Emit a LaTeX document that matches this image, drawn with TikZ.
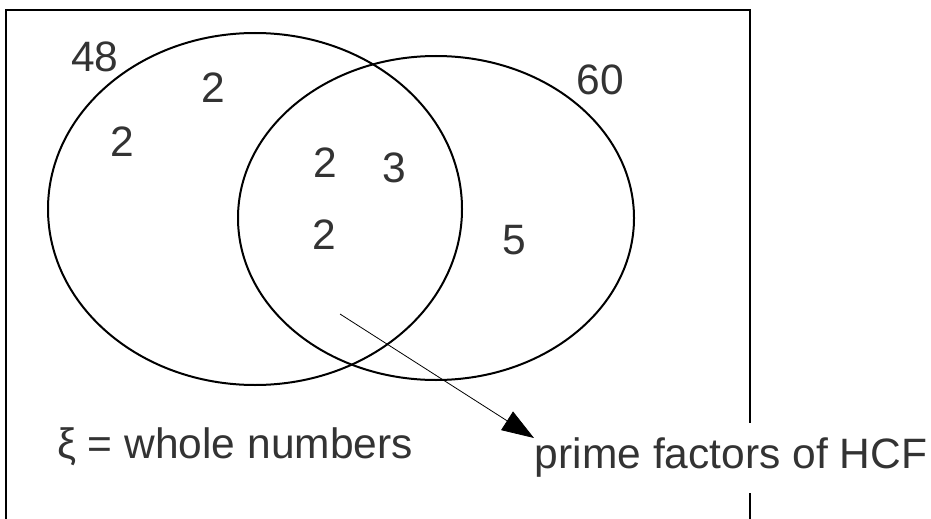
\documentclass[tikz,border=0pt]{standalone}
\usepackage{fontspec}
\setmainfont{Liberation Sans}
\usetikzlibrary{arrows.meta}
\definecolor{txt}{HTML}{333333}
\begin{document}
\begin{tikzpicture}[x=1pt,y=-1pt,
  lbl/.style={text=txt,font=\fontsize{42.5}{50}\selectfont,inner sep=0pt},
  setline/.style={draw=black,line width=2pt}]
\useasboundingbox (0,0) rectangle (931,519);
\draw[setline] (6,519) -- (6,10) -- (750,10) -- (750,519);
\draw[setline] (255,209) ellipse [x radius=207, y radius=176];
\draw[setline] (436,218) ellipse [x radius=198, y radius=162];
\node[lbl] (n48) at (95,57) {48};
\node[lbl] (a) at (213,88) {2};
\node[lbl] (b) at (122,142) {2};
\node[lbl] (c) at (325,163) {2};
\node[lbl] (d) at (394,168) {3};
\node[lbl] (e) at (324,235) {2};
\node[lbl] (f) at (514,240) {5};
\node[lbl] (n60) at (600,80) {60};
\node[lbl] (xi) at (235,447) {ξ = whole numbers};
\node[lbl,fill=white,minimum height=70pt,inner xsep=2pt] (hcf) at (731,458) {prime factors of HCF};
\coordinate (s) at (340,314);
\coordinate (t) at (534,438);
\draw[line width=0.8pt,-{Triangle[length=32pt,width=22pt]}] (s) -- (t);
\end{tikzpicture}
\end{document}
